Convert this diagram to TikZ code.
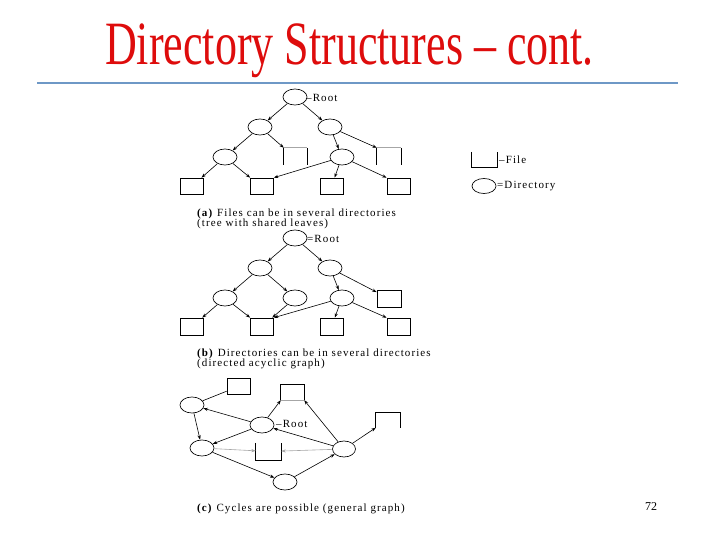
\documentclass[tikz,border=0pt]{standalone}
\usepackage{fontspec}
\setmainfont{Liberation Serif}
\newfontfamily\capfont[LetterSpace=10]{Liberation Serif}
\usetikzlibrary{shapes.geometric,arrows.meta}
\definecolor{titlered}{RGB}{222,12,12}
\definecolor{ruleblue}{RGB}{110,152,198}
\begin{document}
\begin{tikzpicture}[x=1pt,y=-1pt,
  dirnode/.style={ellipse, draw, line width=0.65pt, minimum width=24pt, minimum height=16pt, inner sep=0pt},
  filenode/.style={rectangle, draw, line width=0.65pt, minimum width=23pt, minimum height=16pt, inner sep=0pt},
  openbox/.style={rectangle, minimum width=23pt, minimum height=16pt, inner sep=0pt},
  boxline/.style={line width=0.65pt},
  fadeline/.style={line width=0.65pt, black!35},
  conn/.style={-{Stealth[length=4.5pt,width=3.2pt]}, line width=0.6pt},
  plainconn/.style={line width=0.6pt},
  faintconn/.style={conn, black!35},
  lbl/.style={font=\capfont\fontsize{11}{12}\selectfont, inner sep=0pt}]
\useasboundingbox (0,0) rectangle (720,540);

% title and rule
\node[anchor=base, inner sep=0pt, text=titlered, font=\fontsize{44}{50}\selectfont] (title) at (349.5,65) {\scalebox{1}[1.4]{Directory Structures – cont.}};
\coordinate (ruleL) at (37,83);
\coordinate (ruleR) at (678,83);
\draw[ruleblue, line width=2.2pt] (ruleL) -- (ruleR);

% ---------------- (a) ----------------
\node[dirnode] (a0) at (295,97) {};
\node[lbl, anchor=west] (a0l) at (306,98) {–Root};
\node[dirnode] (a1) at (260,127) {};
\node[dirnode] (a2) at (330,127) {};
\node[dirnode] (a3) at (225,157) {};
\node[dirnode] (a4) at (342,157) {};
\node[openbox, minimum height=17pt] (ab1) at (295.5,156.5) {};
\node[openbox, minimum width=24pt, minimum height=17pt] (ab2) at (389,156.5) {};
\node[filenode] (af1) at (192,186) {};
\node[filenode] (af2) at (262,186) {};
\node[filenode] (af3) at (331.5,186) {};
\node[filenode] (af4) at (398.5,186) {};
\draw[boxline] (ab1.north west) -- (ab1.south west) (ab1.north east) -- (ab1.south east);
\draw[fadeline] (ab1.north west) -- (ab1.north east);
\draw[boxline] (ab2.north west) -- (ab2.south west) (ab2.north east) -- (ab2.south east);
\draw[fadeline] (ab2.north west) -- (ab2.north east);
\draw[conn] (a0) -- (a1);
\draw[conn] (a0) -- (a2);
\draw[conn] (a1) -- (a3);
\draw[conn] (a1) -- (ab1.north west);
\draw[conn] (a2) -- (a4);
\draw[conn] (a2) -- (ab2.north west);
\draw[conn] (a3) -- (af1);
\draw[conn] (a3) -- (af2.north west);
\draw[conn] (a4) -- (af2.north east);
\draw[conn] (a4) -- (af3);
\draw[conn] (a4) -- (af4.north west);
\node[lbl, anchor=base west] (capa1) at (197,216.5) {\textbf{(a)} Files can be in several directories};
\node[lbl, anchor=base west] (capa2) at (197,226.5) {(tree with shared leaves)};

% legend
\node[openbox, minimum width=25pt, minimum height=15pt] (lgf) at (484.5,159.5) {};
\draw[boxline] (lgf.north west) -- (lgf.south west) -- (lgf.south east) -- (lgf.north east);
\node[lbl, anchor=west] (lgfl) at (499,160) {–File};
\node[dirnode, minimum height=15pt] (lgd) at (484,186) {};
\node[lbl, anchor=west] (lgdl) at (497,186) {=Directory};

% ---------------- (b) ----------------
\node[dirnode] (b0) at (295,238) {};
\node[lbl, anchor=west] (b0l) at (307,239) {=Root};
\node[dirnode] (b1) at (260,268) {};
\node[dirnode] (b2) at (330,268) {};
\node[dirnode] (b3) at (225,298) {};
\node[dirnode] (b4) at (295,298) {};
\node[dirnode] (b5) at (342,298) {};
\node[filenode, minimum width=24pt, minimum height=17pt] (bbx) at (389,298.5) {};
\node[filenode, minimum height=17pt] (bf1) at (192,326.5) {};
\node[filenode, minimum height=17pt] (bf2) at (262,326.5) {};
\node[filenode, minimum height=17pt] (bf3) at (331.5,326.5) {};
\node[filenode, minimum height=17pt] (bf4) at (398.5,326.5) {};
\draw[conn] (b0) -- (b1);
\draw[conn] (b0) -- (b2);
\draw[conn] (b1) -- (b3);
\draw[conn] (b1) -- (b4);
\draw[conn] (b2) -- (b5);
\draw[conn] (b2) -- (bbx);
\draw[conn] (b3) -- (bf1);
\draw[conn] (b3) -- (bf2.north west);
\draw[conn] (b4) -- (bf2);
\draw[conn] (b5) -- (bf2.north east);
\draw[conn] (b5) -- (bf3);
\draw[conn] (b5) -- (bf4.north west);
\node[lbl, anchor=base west] (capb1) at (197,356) {\textbf{(b)} Directories can be in several directories};
\node[lbl, anchor=base west] (capb2) at (197,366) {(directed acyclic graph)};

% ---------------- (c) ----------------
\node[filenode] (ctl) at (238.5,386.5) {};
\node[openbox, minimum height=15pt] (ctb) at (292.5,392.5) {};
\draw[boxline] (ctb.south west) -- (ctb.north west) -- (ctb.north east) -- (ctb.south east);
\draw[fadeline] (ctb.south west) -- (ctb.south east);
\node[openbox, minimum width=24pt, minimum height=15pt] (crb) at (388,420) {};
\draw[boxline] (crb.south west) -- (crb.north west) -- (crb.north east) -- (crb.south east);
\node[openbox, minimum width=25pt, minimum height=17pt] (cmb) at (268.5,451.5) {};
\draw[boxline] (cmb.north west) -- (cmb.south west) -- (cmb.south east) -- (cmb.north east);
\node[dirnode] (ce1) at (192,405) {};
\node[dirnode] (croot) at (262,425) {};
\node[lbl, anchor=west] (crootl) at (276,424) {–Root};
\node[dirnode] (ce2) at (202,448) {};
\node[dirnode, minimum width=23pt] (ce3) at (344,449) {};
\node[dirnode] (ce4) at (285,482) {};
\draw[plainconn] (ce1) -- (ctl);
\draw[conn] (croot) -- (ce1);
\draw[conn] (ce1) -- (ce2);
\draw[conn] (croot) -- (ce2);
\draw[conn] (croot) -- (ctb.south west);
\draw[conn] (ce3) -- (ctb.south east);
\draw[conn] (ce3) -- (croot);
\draw[conn] (ce3) -- (crb.south west);
\draw[faintconn] (ce2) -- (cmb);
\draw[faintconn] (ce3) -- (cmb);
\draw[conn] (ce2) -- (ce4);
\draw[conn] (ce4) -- (ce3);
\node[lbl, anchor=base west] (capc) at (197,511) {\textbf{(c)} Cycles are possible (general graph)};

% page number
\node[anchor=base, inner sep=0pt, font=\fontsize{12}{14}\selectfont] (pnum) at (651,510) {72};
\end{tikzpicture}
\end{document}
